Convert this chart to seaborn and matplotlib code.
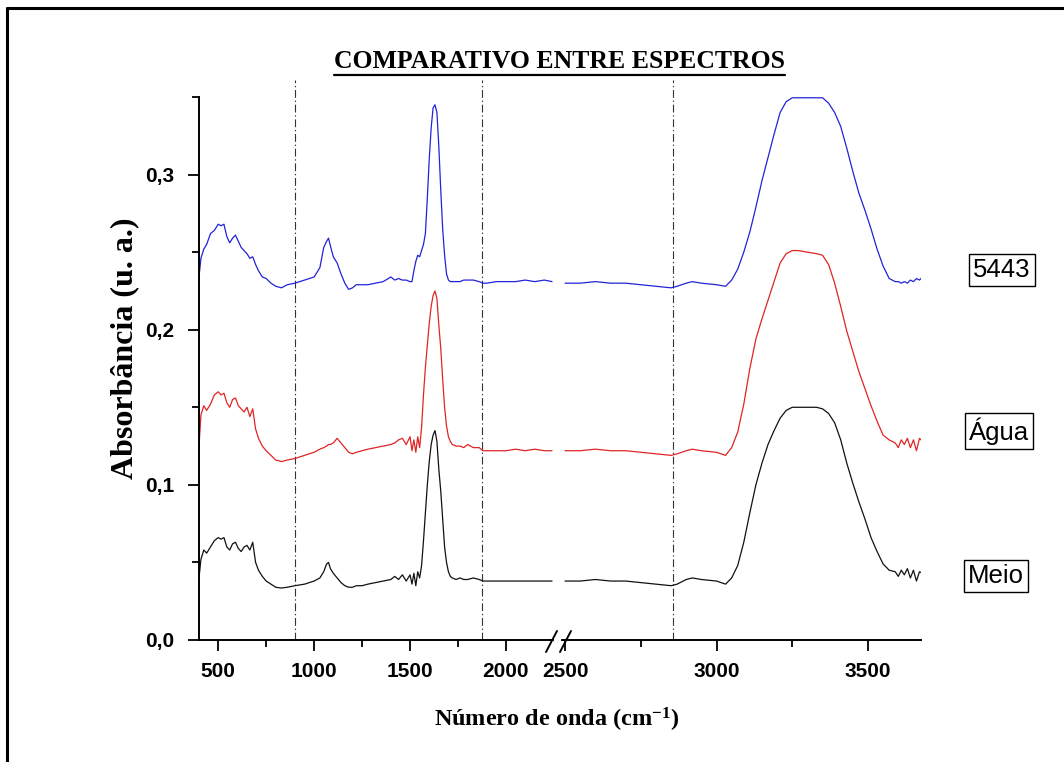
import numpy as np
import pandas as pd
import matplotlib
matplotlib.use("Agg")
import matplotlib.pyplot as plt
import seaborn as sns
from matplotlib.lines import Line2D
from matplotlib.ticker import MultipleLocator, FuncFormatter

# ---------------- data ----------------
wn_left = [400, 410, 425, 440, 460, 480, 500, 515, 530, 545, 560, 575, 590, 605, 620, 635, 650, 665, 680, 695,
           710, 730, 750, 775, 800, 830, 860, 900, 950, 1000, 1030, 1050, 1065, 1075, 1085, 1100, 1120, 1140, 1160,
           1180, 1200, 1220, 1250, 1280, 1320, 1360, 1400, 1420, 1440, 1460, 1480, 1500, 1510, 1520, 1530, 1540,
           1550, 1560, 1570, 1580, 1590, 1600, 1610, 1620, 1630, 1640, 1650, 1660, 1670, 1680, 1690, 1700, 1710,
           1720, 1740, 1760, 1780, 1800, 1830, 1860, 1880, 1900, 1950, 2000, 2050, 2100, 2150, 2200, 2240]

s5443_left = [0.234, 0.246, 0.252, 0.255, 0.262, 0.264, 0.268, 0.267, 0.268, 0.260, 0.256, 0.259, 0.261, 0.257,
              0.253, 0.251, 0.249, 0.246, 0.247, 0.242, 0.238, 0.234, 0.233, 0.230, 0.228, 0.227, 0.229, 0.230,
              0.232, 0.234, 0.240, 0.253, 0.257, 0.259, 0.254, 0.247, 0.243, 0.236, 0.230, 0.226, 0.227, 0.229,
              0.229, 0.229, 0.230, 0.231, 0.234, 0.232, 0.233, 0.232, 0.232, 0.231, 0.231, 0.238, 0.244, 0.248,
              0.247, 0.251, 0.255, 0.262, 0.285, 0.310, 0.330, 0.343, 0.345, 0.340, 0.318, 0.290, 0.265, 0.248,
              0.236, 0.232, 0.231, 0.231, 0.231, 0.231, 0.232, 0.232, 0.232, 0.231, 0.230, 0.230, 0.231, 0.231,
              0.231, 0.232, 0.231, 0.232, 0.231]

agua_left = [0.125, 0.145, 0.151, 0.148, 0.152, 0.158, 0.160, 0.158, 0.159, 0.153, 0.150, 0.155, 0.156, 0.151,
             0.149, 0.147, 0.150, 0.144, 0.149, 0.136, 0.130, 0.125, 0.122, 0.119, 0.116, 0.115, 0.116, 0.117,
             0.119, 0.121, 0.123, 0.124, 0.125, 0.126, 0.126, 0.127, 0.130, 0.127, 0.124, 0.121, 0.120, 0.121,
             0.122, 0.123, 0.124, 0.125, 0.126, 0.127, 0.129, 0.130, 0.126, 0.131, 0.122, 0.129, 0.121, 0.131,
             0.124, 0.137, 0.158, 0.176, 0.190, 0.204, 0.215, 0.222, 0.225, 0.220, 0.203, 0.188, 0.168, 0.150,
             0.138, 0.131, 0.128, 0.126, 0.125, 0.125, 0.124, 0.126, 0.124, 0.124, 0.122, 0.122, 0.122, 0.122,
             0.123, 0.122, 0.123, 0.122, 0.122]

meio_left = [0.040, 0.052, 0.058, 0.056, 0.060, 0.064, 0.066, 0.065, 0.066, 0.060, 0.058, 0.062, 0.063, 0.059,
             0.057, 0.060, 0.061, 0.058, 0.063, 0.050, 0.045, 0.041, 0.038, 0.036, 0.034, 0.0335, 0.034, 0.035,
             0.036, 0.038, 0.040, 0.044, 0.049, 0.050, 0.046, 0.043, 0.040, 0.037, 0.035, 0.034, 0.034, 0.035,
             0.035, 0.036, 0.037, 0.038, 0.039, 0.041, 0.039, 0.042, 0.038, 0.042, 0.036, 0.043, 0.035, 0.044,
             0.040, 0.048, 0.064, 0.082, 0.100, 0.115, 0.126, 0.132, 0.135, 0.128, 0.110, 0.096, 0.078, 0.060,
             0.050, 0.044, 0.041, 0.040, 0.039, 0.040, 0.039, 0.039, 0.040, 0.039, 0.038, 0.038, 0.038, 0.038,
             0.038, 0.038, 0.038, 0.038, 0.038]

wn_right = [2500, 2550, 2600, 2650, 2700, 2750, 2800, 2850, 2870, 2900, 2920, 2950, 3000, 3030, 3050, 3070, 3090,
            3110, 3130, 3150, 3170, 3190, 3210, 3230, 3250, 3270, 3300, 3330, 3350, 3370, 3390, 3410, 3430, 3450,
            3470, 3490, 3510, 3530, 3550, 3570, 3590, 3600, 3610, 3620, 3630, 3640, 3650, 3660, 3670, 3680]

s5443_right = [0.230, 0.230, 0.231, 0.230, 0.230, 0.229, 0.228, 0.227, 0.228, 0.230, 0.231, 0.230, 0.229, 0.228,
               0.232, 0.239, 0.250, 0.263, 0.279, 0.296, 0.311, 0.326, 0.340, 0.347, 0.3495, 0.3495, 0.3495,
               0.3495, 0.3495, 0.346, 0.340, 0.331, 0.317, 0.302, 0.288, 0.277, 0.265, 0.252, 0.241, 0.233, 0.231,
               0.231, 0.230, 0.231, 0.230, 0.232, 0.231, 0.233, 0.232, 0.234]

agua_right = [0.122, 0.122, 0.123, 0.122, 0.122, 0.121, 0.120, 0.119, 0.120, 0.122, 0.123, 0.122, 0.121, 0.119,
              0.124, 0.134, 0.152, 0.175, 0.194, 0.207, 0.219, 0.231, 0.243, 0.249, 0.251, 0.251, 0.250, 0.249,
              0.248, 0.242, 0.230, 0.215, 0.199, 0.186, 0.173, 0.162, 0.151, 0.141, 0.132, 0.129, 0.127, 0.124,
              0.129, 0.126, 0.130, 0.124, 0.129, 0.122, 0.130, 0.128]

meio_right = [0.038, 0.038, 0.039, 0.038, 0.038, 0.037, 0.036, 0.035, 0.036, 0.039, 0.040, 0.039, 0.038, 0.036,
              0.040, 0.048, 0.063, 0.082, 0.100, 0.114, 0.126, 0.135, 0.143, 0.148, 0.150, 0.150, 0.150, 0.150,
              0.149, 0.146, 0.140, 0.129, 0.114, 0.101, 0.089, 0.078, 0.066, 0.057, 0.049, 0.045, 0.044, 0.041,
              0.045, 0.042, 0.046, 0.040, 0.045, 0.038, 0.044, 0.043]

series_names = ["5443", "Água", "Meio"]
series_colors = ["#2323d8", "#e02424", "#111111"]
marker_lines = [900, 1875, 2855]

# ---------------- style ----------------
sns.set_style("ticks")
plt.rcParams["font.family"] = ["Liberation Sans", "DejaVu Sans"]
plt.rcParams.update({
    "text.color": "black", "axes.labelcolor": "black", "xtick.color": "black", "ytick.color": "black",
    "axes.edgecolor": "black",
    "mathtext.fontset": "custom", "mathtext.rm": "Liberation Serif",
    "mathtext.bf": "Liberation Serif:bold", "mathtext.it": "Liberation Serif:italic",
})

W, H = 1064, 762
fig = plt.figure(figsize=(W / 100, H / 100), dpi=100)
fig.patch.set_facecolor("white")

def px_rect(x0, y_top, x1, y_bot):
    return [x0 / W, 1 - y_bot / H, (x1 - x0) / W, (y_bot - y_top) / H]

ax1 = fig.add_axes(px_rect(199, 97, 553, 640))
ax2 = fig.add_axes(px_rect(562, 97, 921, 640), sharey=ax1)

left_vals = [s5443_left, agua_left, meio_left]
right_vals = [s5443_right, agua_right, meio_right]
for name, col, lv, rv in zip(series_names, series_colors, left_vals, right_vals):
    sns.lineplot(x=wn_left, y=lv, ax=ax1, color=col, lw=0.9, estimator=None, sort=False)
    sns.lineplot(x=wn_right, y=rv, ax=ax2, color=col, lw=0.9, estimator=None, sort=False)

ax1.set_xlim(400, 2245)
ax2.set_xlim(2490, 3675)
ax1.set_ylim(0, 0.35)

ax1.yaxis.set_major_locator(MultipleLocator(0.1))
ax1.yaxis.set_minor_locator(MultipleLocator(0.05))
ax1.yaxis.set_major_formatter(FuncFormatter(lambda v, p: f"{v:.1f}".replace(".", ",")))

for ax in (ax1, ax2):
    ax.set_facecolor("white")
    for s in ("top", "right"):
        ax.spines[s].set_visible(False)
    ax.spines["bottom"].set_linewidth(1.4)
    ax.spines["left"].set_linewidth(1.4)
    ax.xaxis.set_major_locator(MultipleLocator(500))
    ax.xaxis.set_minor_locator(MultipleLocator(250))
    ax.tick_params(axis="both", which="major", direction="out", length=8, width=1.3, labelsize=15)
    ax.tick_params(axis="x", which="major", pad=8)
    ax.tick_params(axis="y", which="major", pad=10)
    ax.tick_params(axis="both", which="minor", direction="out", length=5, width=1.3)
    ax.set_xlabel("")
    ax.set_ylabel("")

ax2.spines["left"].set_visible(False)
ax2.tick_params(axis="y", which="both", left=False, labelleft=False)

for ax in (ax1, ax2):
    for lab in ax.get_xticklabels() + ax.get_yticklabels():
        lab.set_fontweight("bold")

# vertical dash-dot reference lines extending slightly above the axes
ext = (640 - 80) / (640 - 97)
for xv in marker_lines:
    target = ax1 if xv < 2300 else ax2
    target.axvline(xv, ymin=0, ymax=ext, clip_on=False, color="#333333", lw=0.8,
                   ls=(0, (7, 2.5, 1.2, 2.5)), zorder=0)

# axis break slashes
def fig_line(x0, y0, x1, y1, **kw):
    fig.add_artist(Line2D([x0 / W, x1 / W], [1 - y0 / H, 1 - y1 / H], transform=fig.transFigure, **kw))

fig_line(546, 652, 557, 631, color="black", lw=1.4)
fig_line(560, 652, 571, 631, color="black", lw=1.4)

# figure frame (top and left edges)
fig_line(7, 8, W + 5, 8, color="black", lw=2.2)
fig_line(7, 8, 7, H + 5, color="black", lw=2.2)

# title (underlined)
serif = ["Liberation Serif", "DejaVu Serif"]
title = fig.text(559.5 / W, 1 - 62 / H, "COMPARATIVO ENTRE ESPECTROS", ha="center", va="center",
                 fontsize=18.5, fontweight="bold", family=serif)
fig.canvas.draw()
bb = title.get_window_extent(fig.canvas.get_renderer())
uy = bb.y0 - 1
fig.add_artist(Line2D([bb.x0 / W, bb.x1 / W], [uy / H, uy / H], transform=fig.transFigure,
                      color="black", lw=1.6))

# axis labels
fig.text(125 / W, 1 - 348 / H, "Absorbância (u. a.)", rotation=90, ha="center", va="center",
         fontsize=23, fontweight="bold", family=serif)
fig.text(557 / W, 1 - 720 / H, r"Número de onda (cm$^{\mathbf{-1}}$)", ha="center", va="center",
         fontsize=17.5, fontweight="bold", family=serif)

# series labels in boxes
label_pos = [(1002, 270), (999, 431), (996, 576)]
for name, (lx, ly) in zip(series_names, label_pos):
    fig.text(lx / W, 1 - ly / H, name, ha="center", va="center", fontsize=18.5,
             family=["Liberation Sans", "DejaVu Sans"],
             bbox=dict(boxstyle="square,pad=0.16", facecolor="white", edgecolor="black", lw=1.0))

fig.savefig("out.png", dpi=100, facecolor="white")
